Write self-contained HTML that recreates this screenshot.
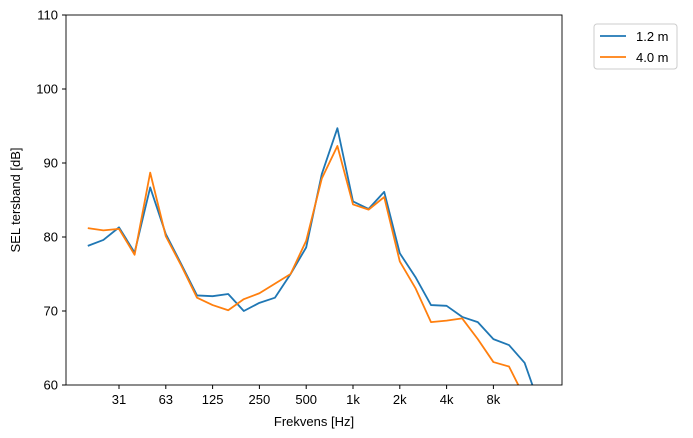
<!DOCTYPE html>
<html><head><meta charset="utf-8"><style>
body{margin:0;background:#fff;}
svg{display:block;font-family:"Liberation Sans",sans-serif;}
</style></head><body>
<svg id="chart" width="693" height="438" viewBox="0 0 693 438" xmlns="http://www.w3.org/2000/svg">
<defs><clipPath id="plotclip"><rect x="66" y="15" width="496" height="370"/></clipPath></defs>
<g id="marks" clip-path="url(#plotclip)"></g>
<rect x="66" y="15" width="496" height="370" fill="none" stroke="#000" stroke-width="0.9"/>
<g id="xaxis"></g><g id="yaxis"></g>
<text x="314" y="426" font-size="13" text-anchor="middle">Frekvens [Hz]</text>
<text transform="translate(20,200) rotate(-90)" font-size="13" text-anchor="middle">SEL tersband [dB]</text>
<g>
<rect x="594" y="24" width="83" height="45" rx="3" fill="#fff" stroke="#ccc"/>
<line x1="600" y1="36" x2="626" y2="36" stroke="#1f77b4" stroke-width="1.8"/>
<text x="636" y="41" font-size="13">1.2 m</text>
<line x1="600" y1="57" x2="626" y2="57" stroke="#ff7f0e" stroke-width="1.8"/>
<text x="636" y="62" font-size="13">4.0 m</text>
</g>
</svg>
<script>
const bandIndex = [0,1,2,3,4,5,6,7,8,9,10,11,12,13,14,15,16,17,18,19,20,21,22,23,24,25,26,27,28,29,30];
const series12 = [78.8,79.6,81.3,77.9,86.7,80.4,76.3,72.1,72.0,72.3,70.0,71.1,71.8,75.0,78.6,88.5,94.7,84.8,83.8,86.1,77.8,74.6,70.8,70.7,69.2,68.5,66.2,65.4,63.0,57.0,54.0];
const series40 = [81.2,80.9,81.1,77.6,88.7,80.1,76.1,71.8,70.8,70.1,71.6,72.4,73.7,75.0,79.5,87.9,92.3,84.4,83.7,85.4,76.7,73.1,68.5,68.7,69.0,66.2,63.1,62.5,58.3,55.0,53.0];
const xTickIdx = [2,5,8,11,14,17,20,23,26];
const xTickLabels = ["31","63","125","250","500","1k","2k","4k","8k"];
const yTicks = [60,70,80,90,100,110];
const NS="http://www.w3.org/2000/svg";
function xs(i){return 87.8+i*15.6;}
function ys(v){return 385-(v-60)*7.4;}
function mk(tag,attrs,parent){const e=document.createElementNS(NS,tag);for(const k in attrs)e.setAttribute(k,attrs[k]);parent.appendChild(e);return e;}
const marks=document.getElementById('marks');
[[series12,'#1f77b4','line-1-2m'],[series40,'#ff7f0e','line-4-0m']].forEach(([s,c,n])=>{
  const p=mk('polyline',{points:s.map((v,i)=>xs(bandIndex[i])+','+ys(v)).join(' '),fill:'none',stroke:c,'stroke-width':1.8,'stroke-linejoin':'round'},marks);
  
  
});
const xa=document.getElementById('xaxis');
xTickIdx.forEach((t,i)=>{
  const x=xs(t);
  mk('line',{x1:x,x2:x,y1:385,y2:389,stroke:'#000'},xa);
  const tx=mk('text',{x:x,y:404,'font-size':13,'text-anchor':'middle'},xa);
  tx.textContent=xTickLabels[i];
  
  
});
const ya=document.getElementById('yaxis');
yTicks.forEach(v=>{
  const y=ys(v);
  mk('line',{x1:62,x2:66,y1:y,y2:y,stroke:'#000'},ya);
  const tx=mk('text',{x:58,y:y+4.5,'font-size':13,'text-anchor':'end'},ya);
  tx.textContent=v;
  
  
});
</script>
</body></html>
